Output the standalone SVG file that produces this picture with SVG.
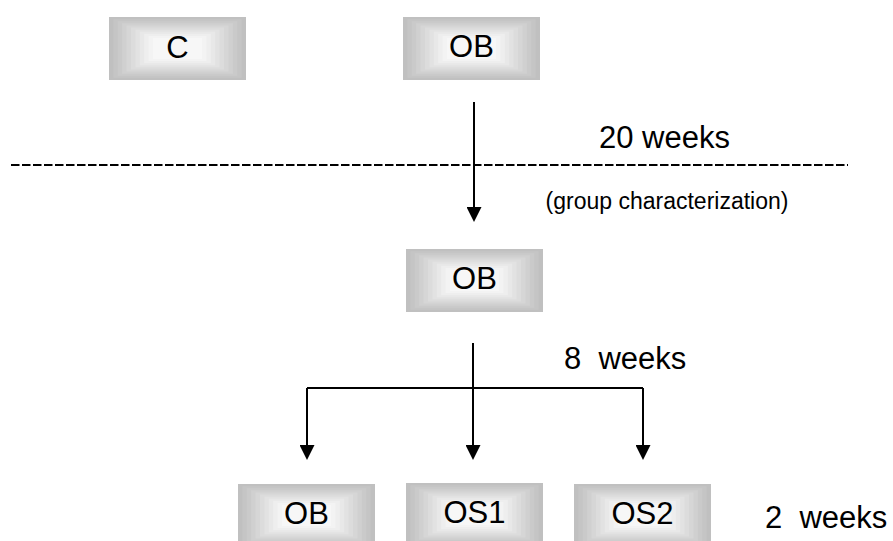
<svg xmlns="http://www.w3.org/2000/svg" xmlns:xlink="http://www.w3.org/1999/xlink" width="893" height="541" viewBox="0 0 893 541">
<style>
.lbl{font-family:"Liberation Sans",Arial,sans-serif;font-size:31px;fill:#000;text-anchor:middle}
.note{font-family:"Liberation Sans",Arial,sans-serif;font-size:31px;fill:#000}
.small{font-family:"Liberation Sans",Arial,sans-serif;font-size:23px;fill:#000;text-anchor:middle}
.conn{stroke:#000;stroke-width:2;fill:none}
</style>
<defs>
<marker id="arr" viewBox="0 0 10 10" refX="0" refY="5" markerUnits="userSpaceOnUse" markerWidth="15" markerHeight="15" orient="auto">
<path d="M0,0 L10,5 L0,10 z" fill="#000"/>
</marker>
<g id="box">
<rect x="0" y="0" width="137" height="63" fill="#c0c0c0"/>
<rect x="4.4" y="2.1" width="128.2" height="58.8" fill="#c5c5c5"/>
<rect x="8.8" y="4.2" width="119.4" height="54.6" fill="#cacaca"/>
<rect x="13.2" y="6.3" width="110.6" height="50.4" fill="#d0d0d0"/>
<rect x="17.6" y="8.4" width="101.8" height="46.2" fill="#d6d6d6"/>
<rect x="22" y="10.5" width="93" height="42" fill="#dcdcdc"/>
<rect x="26.4" y="12.6" width="84.2" height="37.8" fill="#e2e2e2"/>
<rect x="30.8" y="14.7" width="75.4" height="33.6" fill="#e8e8e8"/>
<rect x="35.2" y="16.8" width="66.6" height="29.4" fill="#eeeeee"/>
<rect x="39.6" y="18.9" width="57.8" height="25.2" fill="#f3f3f3"/>
<rect x="44" y="21" width="49" height="21" fill="#f7f7f7"/>
</g>
</defs>
<rect width="893" height="541" fill="#fff"/>

<g id="node-C">
<use xlink:href="#box" x="109" y="17"/>
<text class="lbl" x="177.5" y="58">C</text>
</g>
<g id="node-OB-top">
<use xlink:href="#box" x="403" y="17"/>
<text class="lbl" x="471.5" y="57">OB</text>
</g>
<g id="node-OB-mid">
<use xlink:href="#box" x="406" y="249"/>
<text class="lbl" x="474.5" y="289">OB</text>
</g>
<g id="node-OB-bottom">
<use xlink:href="#box" x="238" y="484"/>
<text class="lbl" x="306.5" y="524">OB</text>
</g>
<g id="node-OS1">
<use xlink:href="#box" x="406" y="483"/>
<text class="lbl" x="474.5" y="523">OS1</text>
</g>
<g id="node-OS2">
<use xlink:href="#box" x="574" y="484"/>
<text class="lbl" x="642.5" y="524">OS2</text>
</g>

<g id="connectors">
<line class="conn" x1="11" y1="165" x2="848" y2="165" stroke-dasharray="8.5 2.5"/>
<line class="conn" x1="474" y1="102" x2="474" y2="207" marker-end="url(#arr)"/>
<line class="conn" x1="473" y1="343" x2="473" y2="388"/>
<line class="conn" x1="307" y1="388" x2="643" y2="388"/>
<line class="conn" x1="307" y1="388" x2="307" y2="445" marker-end="url(#arr)"/>
<line class="conn" x1="473" y1="388" x2="473" y2="445" marker-end="url(#arr)"/>
<line class="conn" x1="643" y1="388" x2="643" y2="445" marker-end="url(#arr)"/>
</g>

<g id="labels">
<text class="note" x="599" y="148">20 weeks</text>
<text class="small" x="667" y="209">(group characterization)</text>
<text class="note" x="564" y="369" xml:space="preserve">8  weeks</text>
<text class="note" x="765" y="528" xml:space="preserve">2  weeks</text>
</g>
</svg>
